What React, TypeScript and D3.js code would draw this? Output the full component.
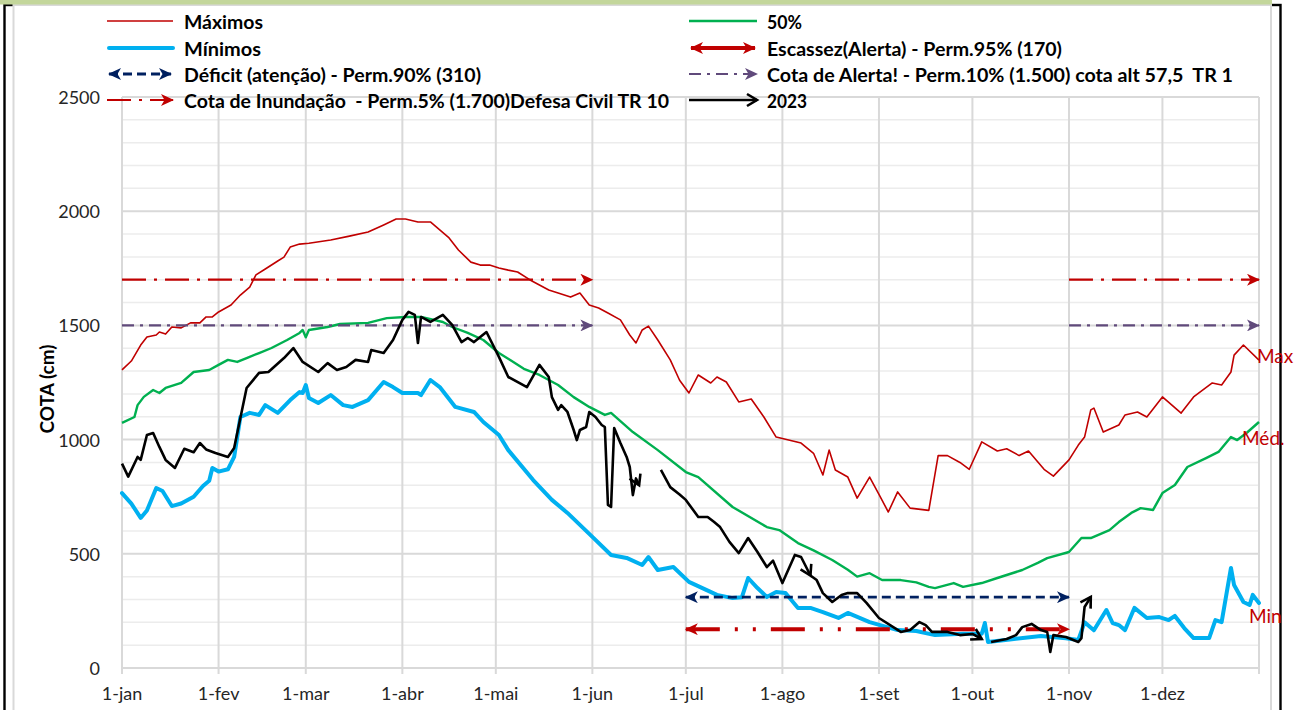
import React from 'react';
import * as d3 from 'd3';

const W = 1303;
const H = 710;

const MONTH_LABELS = ['1-jan', '1-fev', '1-mar', '1-abr', '1-mai', '1-jun', '1-jul', '1-ago', '1-set', '1-out', '1-nov', '1-dez'];
const MONTH_DAYS = [0, 31, 59, 90, 120, 151, 181, 212, 243, 273, 304, 334];
const YEAR_END = 365;
const Y_TICKS = [0, 500, 1000, 1500, 2000, 2500];
const Y_MINOR = d3.range(100, 2500, 100).filter((v) => v % 500 !== 0);

// [day of year, cota (cm)]
const MAXIMOS: [number, number][] = [
  [0, 1305], [3, 1344], [6, 1414], [8, 1449], [11, 1458], [12, 1471], [14, 1462], [16, 1493], [19, 1489], [22, 1511],
  [25, 1511], [27, 1537], [29, 1537], [31, 1559], [35, 1589], [38, 1633], [41, 1668], [43, 1721], [46, 1747], [50, 1782],
  [52, 1799], [54, 1843], [57, 1856], [60, 1860], [67, 1874], [73, 1891], [79, 1909], [84, 1940], [88, 1966], [91, 1966],
  [95, 1953], [99, 1953], [102, 1918], [105, 1883], [108, 1830], [112, 1777], [115, 1764], [118, 1764], [121, 1751],
  [124, 1742], [127, 1734], [131, 1699], [134, 1677], [137, 1655], [140, 1642], [144, 1624], [147, 1642], [150, 1589],
  [153, 1576], [156, 1554], [160, 1524], [163, 1458], [165, 1423], [167, 1480], [169, 1497], [172, 1436], [176, 1349],
  [179, 1260], [182, 1204], [185, 1283], [189, 1248], [191, 1274], [194, 1252], [198, 1165], [202, 1178], [206, 1100],
  [210, 1011], [218, 985], [222, 940], [225, 845], [227, 954], [229, 867], [233, 836], [236, 744], [240, 836], [243, 760],
  [246, 683], [249, 771], [253, 700], [259, 690], [262, 930], [265, 930], [269, 900], [272, 870], [276, 990], [281, 950],
  [284, 960], [288, 930], [291, 950], [296, 870], [299, 840], [304, 911], [307, 976], [309, 1011], [311, 1130], [312, 1138],
  [315, 1033], [320, 1064], [322, 1108], [326, 1121], [329, 1099], [334, 1187], [340, 1116], [344, 1187], [350, 1248],
  [353, 1239], [356, 1296], [357, 1370], [360, 1414], [365, 1348],
];

const MEDIA_50: [number, number][] = [
  [0, 1073], [4, 1099], [5, 1151], [7, 1187], [10, 1217], [12, 1204], [14, 1226], [19, 1248], [23, 1296], [28, 1305],
  [31, 1327], [34, 1349], [37, 1340], [40, 1357], [44, 1379], [48, 1401], [53, 1436], [57, 1467], [58, 1480], [59, 1448],
  [60, 1480], [66, 1493], [70, 1506], [79, 1511], [85, 1532], [91, 1537], [96, 1537], [103, 1515], [106, 1493], [111, 1467],
  [116, 1436], [121, 1379], [125, 1345], [129, 1310], [134, 1283], [140, 1239], [145, 1186], [150, 1143], [155, 1108],
  [157, 1117], [164, 1033], [172, 954], [181, 858], [185, 836], [196, 705], [207, 617], [211, 604], [217, 547], [222, 515],
  [228, 473], [233, 430], [236, 400], [240, 415], [244, 385], [250, 385], [255, 375], [259, 355], [261, 350], [267, 372],
  [270, 355], [276, 372], [281, 394], [289, 429], [294, 460], [297, 481], [304, 508], [308, 569], [311, 569], [317, 604],
  [320, 639], [324, 679], [327, 700], [331, 692], [334, 766], [338, 801], [342, 880], [348, 919], [352, 946], [356, 1011],
  [358, 998], [361, 1029], [365, 1077],
];

const MINIMOS: [number, number][] = [
  [0, 766], [3, 720], [6, 657], [8, 690], [11, 788], [13, 775], [16, 709], [19, 720], [23, 750], [26, 797], [28, 820],
  [29, 876], [31, 860], [34, 870], [36, 924], [38, 1099], [41, 1117], [44, 1108], [46, 1151], [50, 1117], [54, 1173],
  [57, 1208], [58, 1204], [59, 1239], [60, 1182], [63, 1160], [67, 1195], [71, 1151], [74, 1143], [79, 1173], [84, 1252],
  [87, 1230], [90, 1204], [95, 1204], [96, 1195], [99, 1261], [102, 1230], [107, 1143], [113, 1121], [116, 1077],
  [121, 1020], [124, 954], [132, 823], [138, 736], [143, 679], [151, 574], [157, 495], [162, 482], [167, 451], [169, 486],
  [172, 429], [177, 442], [182, 377], [191, 320], [196, 306], [199, 310], [201, 394], [204, 350], [207, 311], [210, 333],
  [213, 328], [217, 263], [221, 263], [225, 245], [230, 219], [233, 241], [240, 201], [249, 166], [255, 162], [261, 144],
  [270, 150], [276, 150], [277, 197], [278, 114], [285, 125], [295, 140], [303, 130], [307, 123], [309, 200], [312, 165],
  [316, 254], [318, 197], [320, 188], [322, 166], [325, 263], [329, 219], [333, 223], [336, 210], [338, 228], [341, 175],
  [344, 131], [349, 131], [351, 210], [353, 201], [356, 438], [357, 363], [360, 289], [362, 276], [363, 320], [365, 285],
];

const ANO_2023_A: [number, number][] = [
  [0, 895], [2, 838], [5, 924], [6, 911], [8, 1020], [10, 1029], [12, 968], [14, 911], [17, 876], [20, 960], [23, 945],
  [25, 985], [27, 957], [30, 941], [34, 924], [36, 963], [40, 1226], [44, 1292], [47, 1296], [52, 1357], [55, 1401],
  [58, 1340], [63, 1296], [66, 1335], [69, 1305], [72, 1318], [75, 1349], [79, 1340], [80, 1392], [84, 1379], [87, 1436],
  [90, 1524], [92, 1559], [94, 1546], [95, 1423], [96, 1537], [99, 1515], [103, 1546], [106, 1502], [109, 1427],
  [111, 1445], [113, 1427], [117, 1471], [121, 1362], [124, 1274], [130, 1230], [134, 1327], [137, 1274], [138, 1186],
  [140, 1130], [141, 1151], [143, 1121], [145, 1042], [146, 998], [147, 1042], [149, 1055], [150, 1121], [152, 1099],
  [154, 1064], [155, 1055], [156, 714], [157, 705], [158, 1051], [160, 985], [162, 924], [163, 880], [164, 757], [165, 830],
  [166, 800],
];
const ANO_2023_B: [number, number][] = [
  [173, 867], [176, 792], [179, 760], [181, 736], [185, 661], [188, 661], [190, 640], [192, 617], [195, 552], [198, 503],
  [201, 569], [204, 508], [207, 442], [209, 470], [212, 372], [216, 495], [218, 486], [221, 405],
];
const ANO_2023_C: [number, number][] = [
  [221, 405], [223, 385], [225, 328], [228, 289], [231, 320], [233, 328], [236, 328], [239, 285], [243, 219], [250, 158],
  [253, 166], [256, 201], [258, 188], [260, 158], [265, 158], [269, 144], [273, 149], [276, 127],
];
const ANO_2023_D: [number, number][] = [
  [279, 114], [284, 127], [287, 144], [289, 179], [292, 193], [295, 166], [297, 158], [298, 70], [299, 144], [303, 136],
  [307, 114], [308, 131], [309, 267], [311, 311],
];

const COTA_INUNDACAO = 1700;
const COTA_ALERTA = 1500;
const DEFICIT = 310;
const ESCASSEZ = 170;
const FLOOD_SPANS: [number, number][] = [[0, 151], [304, 365]];
const DRY_SPAN: [number, number] = [181, 304];

const LEGEND_LEFT = ['Máximos', 'Mínimos', 'Déficit (atenção) - Perm.90% (310)', 'Cota de Inundação  - Perm.5% (1.700)Defesa Civil TR 10'];
const LEGEND_RIGHT = ['50%', 'Escassez(Alerta) - Perm.95% (170)', 'Cota de Alerta! - Perm.10% (1.500) cota alt 57,5  TR 1', '2023'];

const C_MAX = '#c00000';
const C_MED = '#00b050';
const C_MIN = '#00b0f0';
const C_DEF = '#002060';
const C_ALERTA = '#604a7b';
const FONT = 'Lato, "Open Sans", "Liberation Sans", sans-serif';

export default function App() {
  const x = d3.scaleLinear().domain([0, YEAR_END]).range([122, 1259]);
  const y = d3.scaleLinear().domain([0, 2500]).range([668, 97]);
  const line = d3.line<[number, number]>().x((d) => x(d[0])).y((d) => y(d[1]));
  const hline = (v: number, span: [number, number]) => line([[span[0], v], [span[1], v]]) || '';

  const plotLeft = x(0);
  const plotRight = x(YEAR_END);

  const legRows = [21, 48, 74, 100];
  const lx1 = 107, lx2 = 173, ltx = 184;
  const rx1 = 689, rx2 = 757, rtx = 767;
  const leftW = [79, 77, 297, 485];
  const rightW = [35, 295, 466, 40];

  const stealth = (id: string, color: string) => (
    <marker id={id} markerUnits="userSpaceOnUse" viewBox="0 0 14 12" markerWidth={14} markerHeight={12} refX={12} refY={6} orient="auto-start-reverse">
      <path d="M0,0 L13,6 L0,12 L3.5,6 Z" fill={color} />
    </marker>
  );

  return (
    <svg width={W} height={H} style={{ position: 'absolute', left: 0, top: 0, display: 'block' }} fontFamily={FONT}>
      <defs>
        {stealth('arrRed', C_MAX)}
        {stealth('arrNavy', C_DEF)}
        {stealth('arrPurple', C_ALERTA)}
        <marker id="arrBlack" markerUnits="userSpaceOnUse" viewBox="0 0 16 16" markerWidth={16} markerHeight={16} refX={13} refY={8} orient="auto" overflow="visible">
          <path d="M3,2 L13,8 L3,14" fill="none" stroke="#000" strokeWidth={2.6} strokeLinejoin="miter" />
        </marker>
      </defs>
      <rect x={0} y={0} width={W} height={H} fill="#fff" />
      {/* outer frame */}
      <rect x={4.5} y={5} width={1276} height={760} fill="none" stroke="#000" strokeWidth={2.4} />
      <rect x={13.5} y={5} width={1257.5} height={760} fill="#fff" stroke="#d9d9d9" strokeWidth={2} />
      <rect x={0} y={0} width={1272} height={4.5} fill="#c3d69b" />

      {/* gridlines */}
      {Y_MINOR.map((v) => (
        <line key={'m' + v} x1={plotLeft} x2={plotRight} y1={y(v)} y2={y(v)} stroke="#ececec" strokeWidth={1.5} />
      ))}
      {Y_TICKS.map((v) => (
        <line key={'M' + v} x1={plotLeft} x2={plotRight} y1={y(v)} y2={y(v)} stroke="#d9d9d9" strokeWidth={2} />
      ))}
      {[...MONTH_DAYS, YEAR_END].map((d) => (
        <line key={'v' + d} x1={x(d)} x2={x(d)} y1={y(2500)} y2={y(0) + 6} stroke="#d9d9d9" strokeWidth={2} />
      ))}

      {/* axis labels */}
      {Y_TICKS.map((v) => (
        <text key={'yt' + v} x={100} y={y(v)} textAnchor="end" dominantBaseline="central" fontSize={18} fill="#262626">{v}</text>
      ))}
      {MONTH_LABELS.map((l, i) => (
        <text key={'xt' + l} x={x(MONTH_DAYS[i])} y={693} textAnchor="middle" dominantBaseline="central" fontSize={18} fill="#262626">{l}</text>
      ))}
      <text transform={`translate(46,389) rotate(-90)`} textAnchor="middle" dominantBaseline="central" fontSize={19} fontWeight="bold" fill="#000">COTA (cm)</text>

      {/* series */}
      <path d={line(MAXIMOS) || ''} fill="none" stroke={C_MAX} strokeWidth={1.6} strokeLinejoin="round" />
      <path d={line(MEDIA_50) || ''} fill="none" stroke={C_MED} strokeWidth={2.4} strokeLinejoin="round" />
      <path d={line(MINIMOS) || ''} fill="none" stroke={C_MIN} strokeWidth={4} strokeLinejoin="round" strokeLinecap="round" />

      {/* reference lines */}
      <path d={hline(DEFICIT, DRY_SPAN)} fill="none" stroke={C_DEF} strokeWidth={2.8} strokeDasharray="9,5" markerStart="url(#arrNavy)" markerEnd="url(#arrNavy)" />
      <path d={hline(ESCASSEZ, DRY_SPAN)} fill="none" stroke={C_MAX} strokeWidth={4} strokeDasharray="34,15,3,15,3,15" markerStart="url(#arrRed)" markerEnd="url(#arrRed)" />
      {FLOOD_SPANS.map((s, i) => (
        <path key={'al' + i} d={hline(COTA_ALERTA, s)} fill="none" stroke={C_ALERTA} strokeWidth={2.2} strokeDasharray="12,6,3,6" markerEnd="url(#arrPurple)" />
      ))}
      {FLOOD_SPANS.map((s, i) => (
        <path key={'in' + i} d={hline(COTA_INUNDACAO, s)} fill="none" stroke={C_MAX} strokeWidth={2.2} strokeDasharray="24,8,3,8" markerEnd="url(#arrRed)" />
      ))}

      {/* 2023 */}
      {[ANO_2023_A, ANO_2023_B, ANO_2023_C, ANO_2023_D].map((seg, i) => (
        <path key={'y23' + i} d={line(seg) || ''} fill="none" stroke="#000" strokeWidth={2.6} strokeLinejoin="round" markerEnd="url(#arrBlack)" />
      ))}

      {/* end labels */}
      <text x={1257} y={355} dominantBaseline="central" fontSize={19} fill={C_MAX}>Max</text>
      <text x={1242} y={437} dominantBaseline="central" fontSize={19} fill={C_MAX}>Méd.</text>
      <text x={1249} y={615} dominantBaseline="central" fontSize={19} fill={C_MAX}>Min</text>

      {/* legend samples */}
      <line x1={lx1} x2={lx2} y1={legRows[0]} y2={legRows[0]} stroke={C_MAX} strokeWidth={1.6} />
      <line x1={lx1 + 2} x2={lx2} y1={legRows[1]} y2={legRows[1]} stroke={C_MIN} strokeWidth={4} strokeLinecap="round" />
      <line x1={lx1 + 2} x2={lx2 - 2} y1={legRows[2]} y2={legRows[2]} stroke={C_DEF} strokeWidth={2.8} strokeDasharray="9,5" markerStart="url(#arrNavy)" markerEnd="url(#arrNavy)" />
      <line x1={lx1} x2={lx2} y1={legRows[3]} y2={legRows[3]} stroke={C_MAX} strokeWidth={2.2} strokeDasharray="24,8,3,8" markerEnd="url(#arrRed)" />

      <line x1={rx1} x2={rx2} y1={legRows[0]} y2={legRows[0]} stroke={C_MED} strokeWidth={2.4} />
      <line x1={rx1 + 2} x2={rx2 - 2} y1={legRows[1]} y2={legRows[1]} stroke={C_MAX} strokeWidth={4} markerStart="url(#arrRed)" markerEnd="url(#arrRed)" />
      <line x1={rx1} x2={rx2} y1={legRows[2]} y2={legRows[2]} stroke={C_ALERTA} strokeWidth={2.2} strokeDasharray="12,6,3,6" markerEnd="url(#arrPurple)" />
      <line x1={rx1} x2={rx2} y1={legRows[3]} y2={legRows[3]} stroke="#000" strokeWidth={2.6} markerEnd="url(#arrBlack)" />

      {LEGEND_LEFT.map((t, i) => (
        <text key={'ll' + i} x={ltx} y={legRows[i]} dominantBaseline="central" fontSize={19} fontWeight="bold" fill="#000" textLength={leftW[i]} lengthAdjust="spacingAndGlyphs" style={{ whiteSpace: 'pre' }}>{t}</text>
      ))}
      {LEGEND_RIGHT.map((t, i) => (
        <text key={'lr' + i} x={rtx} y={legRows[i]} dominantBaseline="central" fontSize={19} fontWeight="bold" fill="#000" textLength={rightW[i]} lengthAdjust="spacingAndGlyphs" style={{ whiteSpace: 'pre' }}>{t}</text>
      ))}
    </svg>
  );
}
